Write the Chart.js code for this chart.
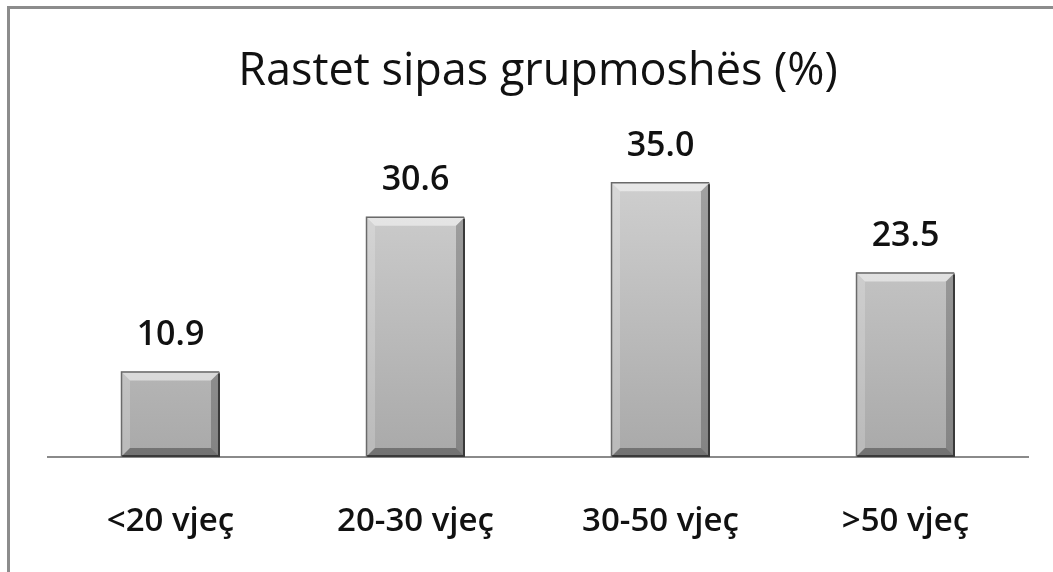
<!DOCTYPE html>
<html>
<head>
<meta charset="utf-8">
<script src="https://cdn.jsdelivr.net/npm/chart.js@4"></script>
<style>
    html, body { margin: 0; padding: 0; background: #fff; }
    #wrap { position: relative; width: 1053px; height: 572px; }
    #frame { position: absolute; left: 7px; top: 6px; right: 0; bottom: 0;
             border-left: 3px solid #8c8c8c; border-top: 3px solid #8c8c8c; }
    canvas { position: absolute; left: 0; top: 0; }
</style>
</head>
<body>
<div id="wrap">
    <div id="frame"></div>
    <canvas id="ageChart" width="1053" height="572"></canvas>
</div>
<script>
const categories = ['<20 vjeç', '20-30 vjeç', '30-50 vjeç', '>50 vjeç'];
const percentValues = [10.9, 30.6, 35.0, 23.5];
const chartTitle = 'Rastet sipas grupmoshës (%)';

const fontFamily = '"Open Sans", "DejaVu Sans", sans-serif';

// bevelled grey bars, like the office chart style
const bevelBars = {
    id: 'bevelBars',
    afterDatasetsDraw(chart) {
        const ctx = chart.ctx;
        chart.getDatasetMeta(0).data.forEach((bar) => {
            const left = bar.x - bar.width / 2;
            const right = bar.x + bar.width / 2;
            const top = bar.y;
            const bottom = bar.base;
            const b = 9;
            ctx.save();
            // top edge highlight
            ctx.fillStyle = 'rgba(255,255,255,0.5)';
            ctx.beginPath();
            ctx.moveTo(left, top); ctx.lineTo(right, top);
            ctx.lineTo(right - b, top + b); ctx.lineTo(left + b, top + b);
            ctx.closePath(); ctx.fill();
            // left edge
            ctx.fillStyle = 'rgba(255,255,255,0.2)';
            ctx.beginPath();
            ctx.moveTo(left, top); ctx.lineTo(left + b, top + b);
            ctx.lineTo(left + b, bottom - b); ctx.lineTo(left, bottom);
            ctx.closePath(); ctx.fill();
            // right edge
            ctx.fillStyle = 'rgba(0,0,0,0.22)';
            ctx.beginPath();
            ctx.moveTo(right, top); ctx.lineTo(right - b, top + b);
            ctx.lineTo(right - b, bottom - b); ctx.lineTo(right, bottom);
            ctx.closePath(); ctx.fill();
            // bottom edge
            ctx.fillStyle = 'rgba(0,0,0,0.32)';
            ctx.beginPath();
            ctx.moveTo(left, bottom); ctx.lineTo(left + b, bottom - b);
            ctx.lineTo(right - b, bottom - b); ctx.lineTo(right, bottom);
            ctx.closePath(); ctx.fill();
            // dark outline on right and bottom
            ctx.strokeStyle = '#3a3a3a';
            ctx.lineWidth = 2;
            ctx.beginPath();
            ctx.moveTo(right - 1, top + 2); ctx.lineTo(right - 1, bottom - 1); ctx.lineTo(left + 1, bottom - 1);
            ctx.stroke();
            ctx.strokeStyle = '#6a6a6a';
            ctx.lineWidth = 1.5;
            ctx.beginPath();
            ctx.moveTo(left + 0.5, bottom); ctx.lineTo(left + 0.5, top + 0.5); ctx.lineTo(right - 1, top + 0.5);
            ctx.stroke();
            ctx.restore();
        });
    }
};

// value labels above each bar
const valueLabels = {
    id: 'valueLabels',
    afterDatasetsDraw(chart) {
        const ctx = chart.ctx;
        const data = chart.data.datasets[0].data;
        ctx.save();
        ctx.font = `600 34px ${fontFamily}`;
        ctx.fillStyle = '#111';
        ctx.textAlign = 'center';
        ctx.textBaseline = 'middle';
        chart.getDatasetMeta(0).data.forEach((bar, i) => {
            ctx.fillText(data[i].toFixed(1), bar.x, bar.y - 36);
        });
        ctx.restore();
    }
};

const ctx = document.getElementById('ageChart').getContext('2d');
new Chart(ctx, {
    type: 'bar',
    data: {
        labels: categories,
        datasets: [{
            data: percentValues,
            backgroundColor: (context) => {
                const chart = context.chart;
                const area = chart.chartArea;
                if (!area) return '#bbbbbb';
                const g = chart.ctx.createLinearGradient(0, area.top, 0, area.bottom);
                g.addColorStop(0, '#d4d4d4');
                g.addColorStop(1, '#a9a9a9');
                return g;
            },
            borderWidth: 0,
            barPercentage: 0.404,
            categoryPercentage: 1.0
        }]
    },
    options: {
        responsive: false,
        animation: false,
        layout: { padding: { left: 48, right: 25, top: 0, bottom: 0 } },
        plugins: {
            legend: { display: false },
            tooltip: { enabled: false },
            title: {
                display: true,
                text: chartTitle,
                color: '#111',
                font: { family: fontFamily, size: 45, weight: 'normal' },
                padding: { top: 45, bottom: 44 }
            }
        },
        scales: {
            x: {
                grid: { display: false, drawTicks: false },
                border: { display: true, color: '#8a8a8a', width: 2 },
                ticks: {
                    color: '#111',
                    padding: 45,
                    maxRotation: 0,
                    font: { family: fontFamily, size: 33, weight: '600' }
                },
                afterFit: (scale) => { scale.height = 115; }
            },
            y: {
                display: false,
                min: 0,
                max: 40
            }
        }
    },
    plugins: [bevelBars, valueLabels]
});
</script>
</body>
</html>
